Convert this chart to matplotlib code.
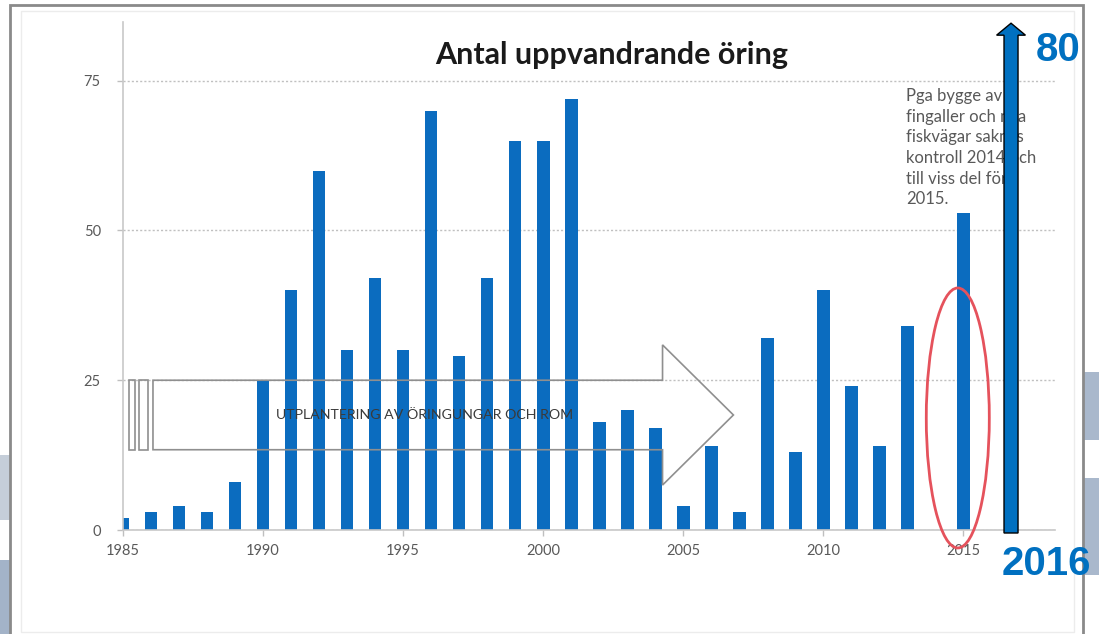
import matplotlib
matplotlib.use("Agg")
import matplotlib.pyplot as plt
from matplotlib.patches import Polygon, Ellipse, FancyArrow, Rectangle

# ---- data ----
years = list(range(1985, 2016))
counts = [2, 3, 4, 3, 8, 25, 40, 60, 30, 42, 30, 70, 29, 42, 65, 65, 72,
          18, 20, 17, 4, 14, 3, 32, 13, 40, 24, 14, 34, 0, 53]
year_2016 = 2016
count_2016 = 80
title = "Antal uppvandrande öring"
arrow_label = "UTPLANTERING AV ÖRINGUNGAR OCH ROM"
note = "Pga bygge av\nfingaller och nya\nfiskvägar saknas\nkontroll 2014 och\ntill viss del för\n2015."
yticks = [0, 25, 50, 75]
xticks = [1985, 1990, 1995, 2000, 2005, 2010, 2015]

plt.rcParams['font.family'] = ['Lato', 'DejaVu Sans']

W, H = 1099, 634
fig = plt.figure(figsize=(W / 100, H / 100), dpi=100)
fig.patch.set_facecolor('white')

# background slide decoration / frame
def px_rect(x0, y0, x1, y1, **kw):
    fig.patches.append(Rectangle((x0 / W, 1 - y1 / H), (x1 - x0) / W, (y1 - y0) / H,
                                 transform=fig.transFigure, zorder=-5, **kw))

px_rect(0, 455, 10, 520, facecolor='#c5ced9', edgecolor='none')
px_rect(0, 560, 10, 634, facecolor='#a3b3c8', edgecolor='none')
px_rect(1084, 372, 1099, 440, facecolor='#a9b8cc', edgecolor='none')
px_rect(1084, 478, 1099, 575, facecolor='#a9b8cc', edgecolor='none')
px_rect(10, 5, 1083, 640, facecolor='white', edgecolor='#8a8a8a', linewidth=2)
px_rect(21, 11, 1074, 632, facecolor='none', edgecolor='#ececec', linewidth=1)

ax = fig.add_axes([123 / W, 1 - 530 / H, (1055 - 123) / W, (530 - 22) / H])
ax.set_zorder(2)
ax.set_facecolor('none')
bar_color = '#0b6cbf'
ax.bar(years, counts, width=0.45, color=bar_color, zorder=2)

ax.set_xlim(1985.0, 2018.27)
ax.set_ylim(0, 84.8)
ax.set_yticks(yticks)
ax.set_xticks(xticks)
ax.tick_params(axis='both', colors='#bfbfbf', labelcolor='#595959', labelsize=10.5,
               length=4, width=1)
ax.tick_params(axis='x', pad=6)
ax.tick_params(axis='y', pad=12)
for s in ['top', 'right']:
    ax.spines[s].set_visible(False)
for s in ['left', 'bottom']:
    ax.spines[s].set_color('#c8c8c8')
    ax.spines[s].set_linewidth(1.2)
ax.yaxis.grid(True, linestyle=(0, (1.5, 1.5)), color='#c0c0c0', linewidth=1, zorder=0)
ax.set_axisbelow(True)

# hollow striped arrow (annotation shape)
gray = '#8f8f8f'
body_top, body_bot = 25.0, 13.4
head_top, head_bot = 30.9, 7.5
tip_y = (body_top + body_bot) / 2
x_body, x_head, x_tip = 1986.07, 2004.26, 2006.79
arrow_pts = [(x_body, body_top), (x_head, body_top), (x_head, head_top), (x_tip, tip_y),
             (x_head, head_bot), (x_head, body_bot), (x_body, body_bot)]
ax.add_patch(Polygon(arrow_pts, closed=True, fill=False, edgecolor=gray, linewidth=1.2,
                     zorder=3, clip_on=False))
for (a, b) in [(1985.22, 1985.42), (1985.58, 1985.88)]:
    ax.add_patch(Rectangle((a, body_bot), b - a, body_top - body_bot, fill=False,
                           edgecolor=gray, linewidth=1.2, zorder=3))
fig.text((277 + 573) / 2 / W, 1 - 415 / H, arrow_label, ha='center', va='center',
         fontsize=10.2, color='#3a3a3a', zorder=4)

# red ellipse around 2015
ax.add_patch(Ellipse((2014.8, 18.7), width=2.25, height=43.4, fill=False,
                     edgecolor='#e5525c', linewidth=2, zorder=4, clip_on=False))

# note text
fig.text(906 / W, 1 - 88 / H, note, ha='left', va='top', fontsize=12,
         color='#595959', linespacing=1.36, zorder=1)

# 2016 arrow
ax.add_patch(FancyArrow(year_2016 + 0.7, -0.5, 0, count_2016 + 5.1 - 2.0, width=0.5,
                        head_width=1.03, head_length=2.0, length_includes_head=False,
                        facecolor='#0070c0', edgecolor='black', linewidth=1,
                        zorder=6, clip_on=False))
blue = '#0070c0'
fig.text(1058 / W, 1 - 50 / H, str(count_2016), ha='center', va='center', fontsize=29,
         fontweight='bold', color=blue, family=['Liberation Sans', 'DejaVu Sans'])
fig.text(1046 / W, 1 - 564 / H, str(year_2016), ha='center', va='center', fontsize=29,
         fontweight='bold', color=blue, family=['Liberation Sans', 'DejaVu Sans'])

# title
fig.text(612 / W, 1 - 55 / H, title, ha='center', va='center', fontsize=22,
         fontweight='bold', color='#1a1a1a')

fig.savefig('out.png', dpi=100)
